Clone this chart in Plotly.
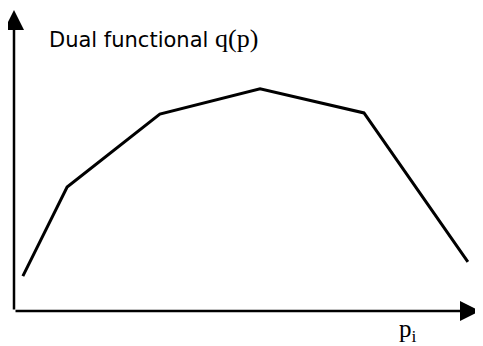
import plotly.graph_objects as go

# p_i positions of the break points and the dual functional values there
p_values = [0.019, 0.114, 0.313, 0.528, 0.751, 0.974]
q_values = [0.116, 0.412, 0.654, 0.738, 0.658, 0.163]

y_label = (
    "Dual functional "
    "<span style='font-family:Liberation Serif;font-size:26px'>q(p)</span>"
)
x_label = "p<sub>i</sub>"

fig = go.Figure()

fig.add_trace(
    go.Scatter(
        x=p_values,
        y=q_values,
        mode="lines",
        line=dict(color="black", width=3),
        hoverinfo="skip",
    )
)

# axis arrows
for tip, tail in [((1, 0), (0, 0)), ((0, 1), (0, 0))]:
    fig.add_annotation(
        x=tip[0], y=tip[1], ax=tail[0], ay=tail[1],
        xref="x", yref="y", axref="x", ayref="y",
        text="", showarrow=True,
        arrowhead=2, arrowsize=1.6, arrowwidth=2.5, arrowcolor="black",
    )

fig.add_annotation(
    x=0.07, y=0.905, xref="paper", yref="paper",
    xanchor="left", yanchor="middle",
    text=y_label, showarrow=False,
    font=dict(family="DejaVu Sans", size=21, color="black"),
)
fig.add_annotation(
    x=0.845, y=-0.065, xref="paper", yref="paper",
    xanchor="center", yanchor="middle",
    text=x_label, showarrow=False,
    font=dict(family="Liberation Serif, Times New Roman", size=25, color="black"),
)

# page body has an 8px margin, so the figure is sized to fit the window
fig.update_layout(
    width=475,
    height=338,
    margin=dict(l=6, r=3, t=2, b=35),
    paper_bgcolor="white",
    plot_bgcolor="white",
    showlegend=False,
    xaxis=dict(range=[0, 1], visible=False, fixedrange=True),
    yaxis=dict(range=[0, 1], visible=False, fixedrange=True),
)

fig.write_html("out.html")
